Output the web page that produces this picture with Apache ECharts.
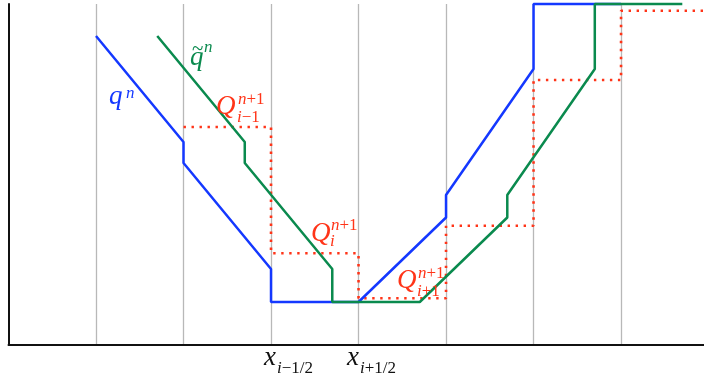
<!DOCTYPE html>
<html><head><meta charset="utf-8">
<script src="https://cdn.jsdelivr.net/npm/echarts@6/dist/echarts.min.js"></script>
<style>html,body{margin:0;padding:0;background:#fff}#c{width:704px;height:378px}</style>
</head><body><div id="c"></div>
<script>
// q^n (blue) piecewise-linear reconstruction
const blueX = [1, 2, 2, 3, 3, 4, 5, 5, 6, 6, 7];
const blueY = [308.5, 202.5, 181.5, 75.5, 42.5, 42.5, 127, 149.5, 275.5, 340.5, 340.5];
// q~^n (green) shifted profile
const greenX = [1.7, 2.7, 2.7, 3.7, 3.7, 4.7, 5.7, 5.7, 6.7, 6.7, 7.7];
const greenY = [308.5, 202.5, 181.5, 75.5, 42.5, 42.5, 127, 149.5, 275.5, 340.5, 340.5];
// Q^{n+1} cell averages (red dotted)
const cellEdges = [2, 3, 4, 5, 6, 7, 8];
const cellQ = [217.5, 91.2, 46.2, 118.8, 264.5, 333.8];

const zip = (xs, ys) => xs.map((x, i) => [x, ys[i]]);
const redData = [];
cellQ.forEach((q, i) => { redData.push([cellEdges[i], q]); redData.push([cellEdges[i + 1], q]); });

const FAM = '"Liberation Serif", "DejaVu Serif", serif';
const ctx = document.createElement('canvas').getContext('2d');
function fontStr(kind, size) { return (kind === 'it' ? 'italic ' : '') + size + 'px ' + FAM; }
// parts: [[text, 'it'|'rm'], ...] placed left-to-right from x with alphabetic baseline
function txt(x, baseline, parts, size, color) {
  const out = [];
  let cx = x;
  parts.forEach(([t, kind]) => {
    const f = fontStr(kind, size);
    out.push({
      type: 'text', x: cx, y: baseline - 0.3375 * size, z: 100, silent: true,
      style: { text: t, font: f, fill: color, verticalAlign: 'middle', align: 'left' }
    });
    ctx.font = f;
    cx += ctx.measureText(t).width;
  });
  return out;
}
const BLUE = '#1438ff', GREEN = '#0a8a4e', RED = '#ff3418', INK = '#111';
const B = 27, S = 17;
const graphics = [].concat(
  txt(109, 106, [['q', 'it']], B, BLUE), txt(126, 99, [['n', 'it']], S, BLUE),
  txt(190, 67.5, [['q', 'it']], B, GREEN), txt(192, 57, [['~', 'rm']], 21, GREEN), txt(204, 53, [['n', 'it']], S, GREEN),
  txt(216, 116, [['Q', 'it']], B, RED), txt(238, 105.5, [['n', 'it'], ['+1', 'rm']], S, RED), txt(237, 123, [['i', 'it'], ['−1', 'rm']], S, RED),
  txt(311, 243.5, [['Q', 'it']], B, RED), txt(331, 231.5, [['n', 'it'], ['+1', 'rm']], S, RED), txt(330, 247.5, [['i', 'it']], S, RED),
  txt(397, 290.5, [['Q', 'it']], B, RED), txt(418, 279.5, [['n', 'it'], ['+1', 'rm']], S, RED), txt(417, 297.5, [['i', 'it'], ['+1', 'rm']], S, RED),
  txt(264, 367.5, [['x', 'it']], B, INK), txt(277, 374, [['i', 'it'], ['−1/2', 'rm']], S, INK),
  txt(347, 367.5, [['x', 'it']], B, INK), txt(360, 374, [['i', 'it'], ['+1/2', 'rm']], S, INK)
);

const chart = echarts.init(document.getElementById('c'), null, { renderer: 'canvas' });
chart.setOption({
  animation: false,
  backgroundColor: '#fff',
  grid: { left: 8.5, top: 4, right: 0, bottom: 33.5, containLabel: false },
  xAxis: {
    type: 'value', min: 0, max: 7.948, interval: 1,
    axisLine: { show: true, onZero: false, lineStyle: { color: INK, width: 2 } },
    axisTick: { show: false }, axisLabel: { show: false },
    splitLine: { show: true, showMinLine: false, showMaxLine: false, lineStyle: { color: '#b8b8b8', width: 1.3 } }
  },
  yAxis: {
    type: 'value', min: 0, max: 340.5,
    axisLine: { show: true, onZero: false, lineStyle: { color: INK, width: 2 } },
    axisTick: { show: false }, axisLabel: { show: false }, splitLine: { show: false }
  },
  series: [
    { type: 'line', data: redData, symbol: 'none', clip: false, z: 2,
      lineStyle: { color: RED, width: 2.6, type: [2.4, 5.6] } },
    { type: 'line', data: zip(blueX, blueY), symbol: 'none', clip: false, z: 3,
      lineStyle: { color: BLUE, width: 2.5 } },
    { type: 'line', data: zip(greenX, greenY), symbol: 'none', clip: false, z: 4,
      lineStyle: { color: GREEN, width: 2.5 } }
  ],
  graphic: graphics
});
</script></body></html>
